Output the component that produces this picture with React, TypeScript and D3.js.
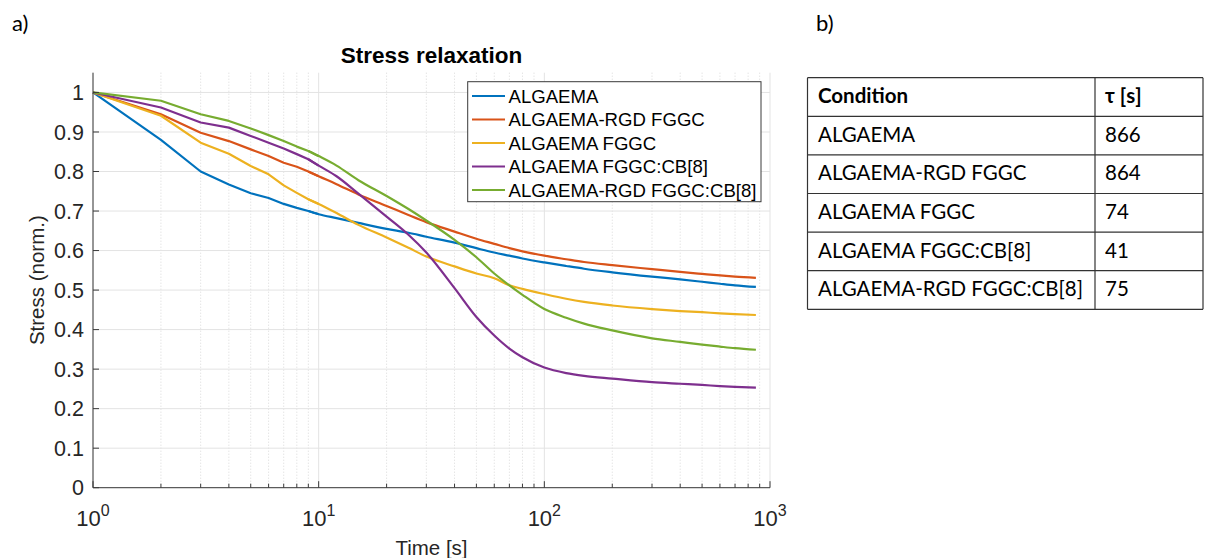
import React from "react";
import * as d3 from "d3";

const times = [1, 2, 3, 4, 5, 6, 7, 8, 9, 10, 12, 15, 20, 25, 30, 40, 50, 60, 70, 80, 100, 125, 150, 200, 300, 400, 500, 600, 700, 866];

const algaema = [1.0, 0.88, 0.8, 0.767, 0.745, 0.733, 0.718, 0.708, 0.7, 0.692, 0.682, 0.67, 0.655, 0.645, 0.635, 0.62, 0.606, 0.595, 0.587, 0.58, 0.57, 0.561, 0.554, 0.545, 0.534, 0.527, 0.521, 0.516, 0.512, 0.508];
const rgdFggc = [1.0, 0.945, 0.898, 0.877, 0.856, 0.839, 0.822, 0.812, 0.8, 0.788, 0.768, 0.742, 0.713, 0.69, 0.672, 0.648, 0.63, 0.617, 0.606, 0.598, 0.587, 0.578, 0.571, 0.563, 0.553, 0.546, 0.541, 0.537, 0.534, 0.531];
const fggc = [1.0, 0.941, 0.873, 0.845, 0.814, 0.793, 0.765, 0.746, 0.73, 0.718, 0.695, 0.665, 0.633, 0.607, 0.585, 0.56, 0.542, 0.53, 0.512, 0.503, 0.49, 0.478, 0.47, 0.461, 0.452, 0.447, 0.444, 0.441, 0.439, 0.437];
const fggcCb8 = [1.0, 0.962, 0.924, 0.911, 0.89, 0.873, 0.858, 0.844, 0.831, 0.815, 0.788, 0.744, 0.686, 0.64, 0.595, 0.505, 0.432, 0.385, 0.352, 0.33, 0.304, 0.29, 0.283, 0.276, 0.267, 0.263, 0.26, 0.257, 0.255, 0.253];
const rgdFggcCb8 = [1.0, 0.979, 0.945, 0.928, 0.909, 0.892, 0.877, 0.863, 0.852, 0.839, 0.815, 0.778, 0.738, 0.705, 0.676, 0.627, 0.583, 0.542, 0.512, 0.488, 0.452, 0.43, 0.415, 0.398, 0.378, 0.369, 0.362, 0.357, 0.353, 0.349];

const seriesNames = ["ALGAEMA", "ALGAEMA-RGD FGGC", "ALGAEMA FGGC", "ALGAEMA FGGC:CB[8]", "ALGAEMA-RGD FGGC:CB[8]"];
const seriesValues = [algaema, rgdFggc, fggc, fggcCb8, rgdFggcCb8];
const seriesColors = ["#0072BD", "#D95319", "#EDB120", "#7E2F8E", "#77AC30"];

const yTicks = [0, 0.1, 0.2, 0.3, 0.4, 0.5, 0.6, 0.7, 0.8, 0.9, 1];
const yTickLabels = ["0", "0.1", "0.2", "0.3", "0.4", "0.5", "0.6", "0.7", "0.8", "0.9", "1"];
const xMajor = [1, 10, 100, 1000];
const xExponents = ["0", "1", "2", "3"];

const tableHeader = ["Condition", "τ [s]"];
const tableConditions = ["ALGAEMA", "ALGAEMA-RGD FGGC", "ALGAEMA FGGC", "ALGAEMA FGGC:CB[8]", "ALGAEMA-RGD FGGC:CB[8]"];
const tableTau = ["866", "864", "74", "41", "75"];

const W = 1210;
const H = 558;
const plot = { left: 93, right: 770, top: 72.7, bottom: 487.7 };

export default function App() {
  const x = d3.scaleLog().domain([1, 1000]).range([plot.left, plot.right]);
  const y = d3.scaleLinear().domain([0, 1.05]).range([plot.bottom, plot.top]);

  const minor: number[] = [];
  for (const dec of [1, 10, 100]) {
    for (let k = 2; k <= 9; k++) minor.push(dec * k);
  }

  // early samples (1 s steps) joined linearly, dense later part drawn smooth
  const lineLinear = d3
    .line<[number, number]>()
    .x((d) => x(d[0]))
    .y((d) => y(d[1]));
  const lineSmooth = d3
    .line<[number, number]>()
    .x((d) => x(d[0]))
    .y((d) => y(d[1]))
    .curve(d3.curveMonotoneX);

  const axisColor = "#3a3a3a";
  const font = "'Liberation Sans', Arial, sans-serif";
  const tableFont = "Lato, 'Noto Sans', sans-serif";

  const tLeft = 807.5;
  const tRight = 1203;
  const tDiv = 1095;
  const rows = [tableHeader, ...tableConditions.map((c, i) => [c, tableTau[i]])];
  const rowY = d3.scaleLinear().domain([0, rows.length]).range([77.7, 309.3]);

  return (
    <svg width={W} height={H} style={{ display: "block", position: "absolute", left: 0, top: 0 }} xmlns="http://www.w3.org/2000/svg">
      <rect x={0} y={0} width={W} height={H} fill="#fff" />
      <text x={12} y={31} fontFamily={tableFont} fontSize={22} fill="#000">a)</text>
      <text x={816} y={31} fontFamily={tableFont} fontSize={22} fill="#000">b)</text>

      <g>
        {minor.map((m) => (
          <line key={"mg" + m} x1={x(m)} x2={x(m)} y1={plot.top} y2={plot.bottom} stroke="#d9d9d9" strokeWidth={1} strokeDasharray="1,2" />
        ))}
        {xMajor.map((m) => (
          <line key={"Mg" + m} x1={x(m)} x2={x(m)} y1={plot.top} y2={plot.bottom} stroke="#e3e3e3" strokeWidth={1} />
        ))}
        {yTicks.map((t) => (
          <line key={"yg" + t} x1={plot.left} x2={plot.right} y1={y(t)} y2={y(t)} stroke="#e3e3e3" strokeWidth={1} />
        ))}
      </g>

      <g fill="none" strokeWidth={2.2} strokeLinejoin="round">
        {seriesValues.map((vals, i) => {
          const pts = times.map((t, j) => [t, vals[j]] as [number, number]);
          const early = pts.filter((p) => p[0] <= 10);
          const late = pts.filter((p) => p[0] >= 9);
          return (
            <g key={seriesNames[i]} stroke={seriesColors[i]}>
              <path d={lineLinear(early) || ""} />
              <path d={lineSmooth(late) || ""} />
            </g>
          );
        })}
      </g>

      <line x1={plot.left} x2={plot.left} y1={plot.top} y2={plot.bottom} stroke={axisColor} strokeWidth={1} />
      <line x1={plot.left} x2={plot.right} y1={plot.bottom} y2={plot.bottom} stroke={axisColor} strokeWidth={1} />
      {yTicks.map((t, i) => (
        <g key={"yt" + t}>
          <line x1={plot.left} x2={plot.left + 6} y1={y(t)} y2={y(t)} stroke={axisColor} />
          <text x={plot.left - 9} y={y(t)} dy="0.36em" textAnchor="end" fontFamily={font} fontSize={21.5} fill="#262626">
            {yTickLabels[i]}
          </text>
        </g>
      ))}
      {minor.map((m) => (
        <line key={"xt" + m} x1={x(m)} x2={x(m)} y1={plot.bottom} y2={plot.bottom - 4} stroke={axisColor} />
      ))}
      {xMajor.map((m, i) => (
        <g key={"xM" + m}>
          <line x1={x(m)} x2={x(m)} y1={plot.bottom} y2={plot.bottom - 6.5} stroke={axisColor} />
          <text x={x(m)} y={526} textAnchor="middle" fontFamily={font} fontSize={22} fill="#262626">
            10
            <tspan dy={-10} fontSize={16}>{xExponents[i]}</tspan>
          </text>
        </g>
      ))}

      <text x={(plot.left + plot.right) / 2} y={63.3} textAnchor="middle" fontFamily={font} fontWeight="bold" fontSize={22.5} fill="#000">
        Stress relaxation
      </text>
      <text x={(plot.left + plot.right) / 2} y={555} textAnchor="middle" fontFamily={font} fontSize={20.5} fill="#262626">
        Time [s]
      </text>
      <text transform={`translate(44,${(plot.top + plot.bottom) / 2}) rotate(-90)`} textAnchor="middle" fontFamily={font} fontSize={20.5} fill="#262626">
        Stress (norm.)
      </text>

      <g>
        <rect x={467.7} y={81.7} width={293.3} height={120} fill="#fff" stroke="#3a3a3a" strokeWidth={1} />
        {seriesNames.map((n, i) => {
          const cy = 96 + i * 23.5;
          return (
            <g key={"lg" + n}>
              <line x1={472} x2={505} y1={cy} y2={cy} stroke={seriesColors[i]} strokeWidth={2.2} />
              <text x={508.5} y={cy} dy="0.36em" fontFamily={font} fontSize={18.6} fill="#000">
                {n}
              </text>
            </g>
          );
        })}
      </g>

      <g>
        {rows.map((r, i) => (
          <g key={"row" + i}>
            <text x={818} y={rowY(i) + 25.5} fontFamily={tableFont} fontSize={20.5} fontWeight={i === 0 ? "bold" : "normal"} fill="#000">
              {r[0]}
            </text>
            <text x={1105} y={rowY(i) + 25.5} fontFamily={tableFont} fontSize={20.5} fontWeight={i === 0 ? "bold" : "normal"} fill="#000">
              {r[1]}
            </text>
          </g>
        ))}
        {d3.range(rows.length + 1).map((i) => (
          <line key={"hl" + i} x1={tLeft} x2={tRight} y1={rowY(i)} y2={rowY(i)} stroke="#333" strokeWidth={1.2} />
        ))}
        <line x1={tLeft} x2={tLeft} y1={rowY(0)} y2={rowY(rows.length)} stroke="#333" strokeWidth={1.2} />
        <line x1={tDiv} x2={tDiv} y1={rowY(0)} y2={rowY(rows.length)} stroke="#333" strokeWidth={1.2} />
        <line x1={tRight} x2={tRight} y1={rowY(0)} y2={rowY(rows.length)} stroke="#333" strokeWidth={1.2} />
      </g>
    </svg>
  );
}
